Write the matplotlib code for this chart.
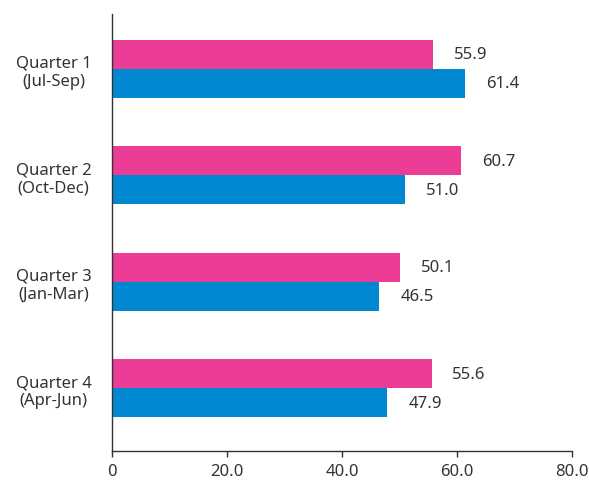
import matplotlib
matplotlib.use("Agg")
import matplotlib.pyplot as plt
import numpy as np

plt.rcParams['font.family'] = ['Noto Sans', 'DejaVu Sans']

categories = ["Quarter 1\n(Jul-Sep)", "Quarter 2\n(Oct-Dec)", "Quarter 3\n(Jan-Mar)", "Quarter 4\n(Apr-Jun)"]
series_pink = [55.9, 60.7, 50.1, 55.6]
series_blue = [61.4, 51.0, 46.5, 47.9]
x_ticks = [0, 20, 40, 60, 80]
x_tick_labels = ["0", "20.0", "40.0", "60.0", "80.0"]

pink = "#EC3D96"
blue = "#0089D1"
text_color = "#333333"

fig = plt.figure(figsize=(5.89, 4.81), dpi=100)
ax = fig.add_axes([112.3/589, 1-452.3/481, (571.7-112.3)/589, (452.3-15)/481])

y = np.arange(len(categories))
h = 0.273
ax.barh(y - h/2, series_pink, height=h, color=pink)
ax.barh(y + h/2, series_blue, height=h, color=blue)

for yi, v in zip(y, series_pink):
    ax.annotate(f"{v:.1f}", (v, yi - h/2), xytext=(15, 0), textcoords='offset points',
                va='center', ha='left', fontsize=12, color=text_color)
for yi, v in zip(y, series_blue):
    ax.annotate(f"{v:.1f}", (v, yi + h/2), xytext=(15, 0), textcoords='offset points',
                va='center', ha='left', fontsize=12, color=text_color)

ax.set_xlim(0, 80)
ax.set_ylim(3.595, -0.517)
ax.set_xticks(x_ticks)
ax.set_xticklabels(x_tick_labels, fontsize=12, color=text_color)
ax.set_yticks(y)
ax.set_yticklabels(categories, fontsize=12, color=text_color, multialignment='center')
ax.tick_params(axis='y', length=0, pad=15)
ax.tick_params(axis='x', length=4.5, direction='out', pad=4, color=text_color, width=1)

for s in ['top', 'right']:
    ax.spines[s].set_visible(False)
for s in ['left', 'bottom']:
    ax.spines[s].set_color(text_color)
    ax.spines[s].set_linewidth(1)

fig.savefig("out.png", dpi=100)
